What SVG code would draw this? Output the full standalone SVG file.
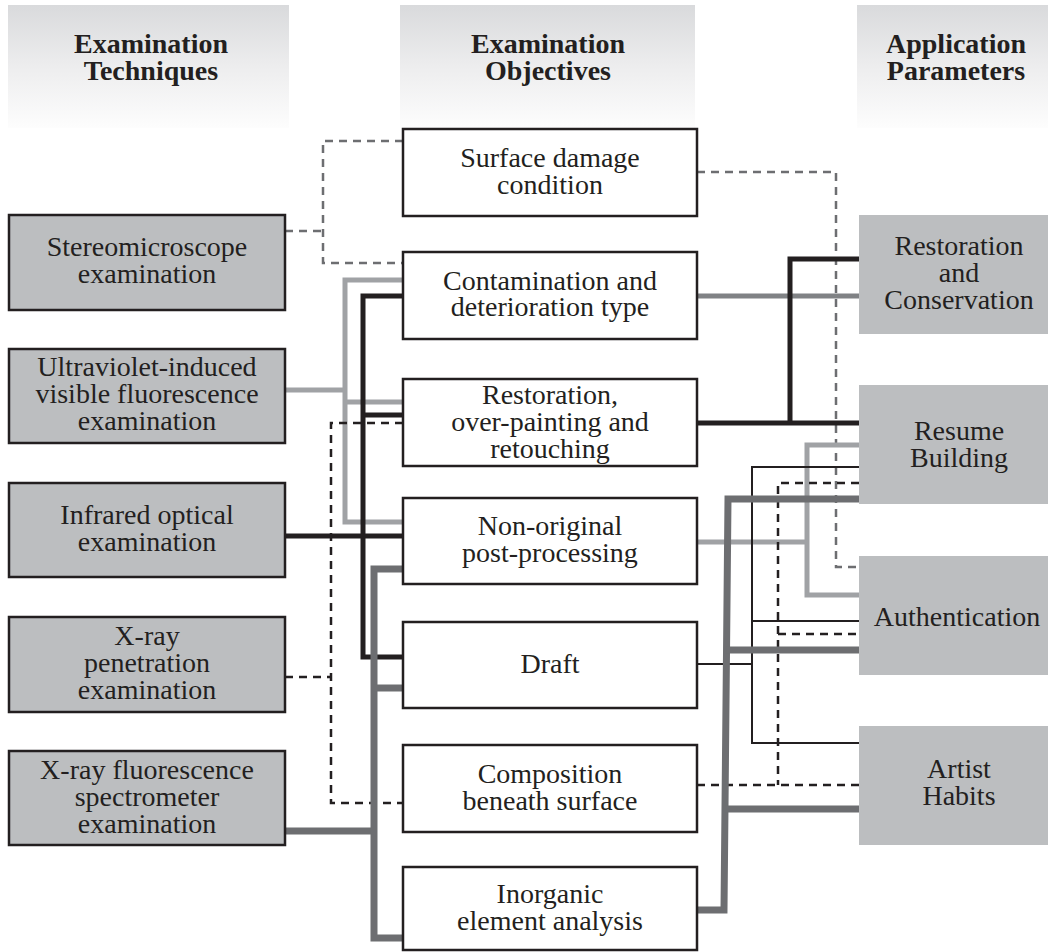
<svg xmlns="http://www.w3.org/2000/svg" width="1048" height="952" viewBox="0 0 1048 952" font-family="Liberation Serif, Times New Roman, Tinos, serif">
<defs>
<linearGradient id="hdr" x1="0" y1="0" x2="0" y2="1">
<stop offset="0" stop-color="#d9dadc"/>
<stop offset="0.5" stop-color="#ededee"/>
<stop offset="1" stop-color="#fdfdfd"/>
</linearGradient>
<style>
text{fill:#231f20;text-anchor:middle;font-size:28px}
.h{font-weight:bold}
.hb{fill:url(#hdr)}
.lb{fill:#bcbec0;stroke:#231f20;stroke-width:2.5}
.mb{fill:#ffffff;stroke:#231f20;stroke-width:2.5}
.rb{fill:#bcbec0}
.c{fill:none;stroke-linejoin:miter;stroke-linecap:butt}
.lg{stroke:#a0a2a5;stroke-width:5}
.bk{stroke:#231f20;stroke-width:5}
.dg{stroke:#6d6e71;stroke-width:7}
.mg{stroke:#808285;stroke-width:5}
.tb{stroke:#231f20;stroke-width:2}
.gd{stroke:#6d6e71;stroke-width:2.5;stroke-dasharray:8 6}
.bd{stroke:#231f20;stroke-width:2.5;stroke-dasharray:8 6}
</style>
</defs>
<rect width="1048" height="952" fill="#ffffff"/>

<g id="headers">
<rect class="hb" x="8" y="5" width="281" height="123"/>
<text class="h" x="151" y="53">Examination<tspan x="151" dy="27">Techniques</tspan></text>
<rect class="hb" x="400" y="5" width="295" height="123"/>
<text class="h" x="548" y="53">Examination<tspan x="548" dy="27">Objectives</tspan></text>
<rect class="hb" x="857" y="5" width="191" height="123"/>
<text class="h" x="956" y="53">Application<tspan x="956" dy="27">Parameters</tspan></text>
</g>

<g id="connectors">
<polyline class="c gd" points="285,231 323,231"/>
<polyline class="c gd" points="403,141 323,141 323,263 403,263"/>
<polyline class="c lg" points="285,390 345,390"/>
<polyline class="c lg" points="403,280 345,280 345,522 403,522"/>
<polyline class="c lg" points="345,402 403,402"/>
<polyline class="c bk" points="403,296 363,296 363,657 403,657"/>
<polyline class="c bk" points="363,415 403,415"/>
<polyline class="c bk" points="285,536 403,536"/>
<polyline class="c bd" points="285,677 331,677"/>
<polyline class="c bd" points="403,423 331,423 331,803 403,803"/>
<polyline class="c dg" points="285,831 374,831"/>
<polyline class="c dg" points="403,569 374,569 374,938 403,938"/>
<polyline class="c dg" points="374,688 403,688"/>
<polyline class="c gd" points="697,172 836,172 836,567 859,567"/>
<polyline class="c mg" points="697,296 859,296"/>
<polyline class="c bk" points="697,423 859,423"/>
<polyline class="c bk" points="859,259 790,259 790,423"/>
<polyline class="c lg" points="697,542 807,542"/>
<polyline class="c lg" points="859,445 807,445 807,595 859,595"/>
<polyline class="c tb" points="697,664 752,664"/>
<polyline class="c tb" points="859,467 752,467 752,743 859,743"/>
<polyline class="c tb" points="752,621 859,621"/>
<polyline class="c bd" points="697,785 859,785"/>
<polyline class="c bd" points="859,483 778,483 778,785"/>
<polyline class="c bd" points="778,634 859,634"/>
<polyline class="c dg" points="697,910 724,910 728,499 859,499"/>
<polyline class="c dg" points="726.5,650 859,650"/>
<polyline class="c dg" points="725,809 859,809"/>
</g>

<g id="tech-stereo">
<rect class="lb" x="9" y="215" width="276" height="95"/>
<text x="147" y="256">Stereomicroscope<tspan x="147" dy="27">examination</tspan></text>
</g>
<g id="tech-uv">
<rect class="lb" x="9" y="349" width="276" height="94"/>
<text x="147" y="376">Ultraviolet-induced<tspan x="147" dy="27">visible fluorescence</tspan><tspan x="147" dy="27">examination</tspan></text>
</g>
<g id="tech-ir">
<rect class="lb" x="9" y="483" width="276" height="94"/>
<text x="147" y="524">Infrared optical<tspan x="147" dy="27">examination</tspan></text>
</g>
<g id="tech-xray">
<rect class="lb" x="9" y="617" width="276" height="95"/>
<text x="147" y="645">X-ray<tspan x="147" dy="27">penetration</tspan><tspan x="147" dy="27">examination</tspan></text>
</g>
<g id="tech-xrf">
<rect class="lb" x="9" y="751" width="276" height="94"/>
<text x="147" y="779">X-ray fluorescence<tspan x="147" dy="27">spectrometer</tspan><tspan x="147" dy="27">examination</tspan></text>
</g>

<g id="obj-surface">
<rect class="mb" x="403" y="129" width="294" height="87"/>
<text x="550" y="167">Surface damage<tspan x="550" dy="27">condition</tspan></text>
</g>
<g id="obj-contamination">
<rect class="mb" x="403" y="252" width="294" height="87"/>
<text x="550" y="290">Contamination and<tspan x="550" dy="26">deterioration type</tspan></text>
</g>
<g id="obj-restoration">
<rect class="mb" x="403" y="379" width="294" height="87"/>
<text x="550" y="404">Restoration,<tspan x="550" dy="27">over-painting and</tspan><tspan x="550" dy="27">retouching</tspan></text>
</g>
<g id="obj-nonoriginal">
<rect class="mb" x="403" y="498" width="294" height="86"/>
<text x="550" y="535">Non-original<tspan x="550" dy="27">post-processing</tspan></text>
</g>
<g id="obj-draft">
<rect class="mb" x="403" y="622" width="294" height="86"/>
<text x="550" y="673">Draft</text>
</g>
<g id="obj-composition">
<rect class="mb" x="403" y="745" width="294" height="87"/>
<text x="550" y="783">Composition<tspan x="550" dy="27">beneath surface</tspan></text>
</g>
<g id="obj-inorganic">
<rect class="mb" x="403" y="867" width="294" height="83"/>
<text x="550" y="903">Inorganic<tspan x="550" dy="27">element analysis</tspan></text>
</g>

<g id="app-restoration">
<rect class="rb" x="859" y="215" width="189" height="119"/>
<text x="959" y="255">Restoration<tspan x="959" dy="27">and</tspan><tspan x="959" dy="27">Conservation</tspan></text>
</g>
<g id="app-resume">
<rect class="rb" x="859" y="385" width="189" height="119"/>
<text x="959" y="440">Resume<tspan x="959" dy="27">Building</tspan></text>
</g>
<g id="app-authentication">
<rect class="rb" x="859" y="556" width="189" height="119"/>
<text x="957" y="626">Authentication</text>
</g>
<g id="app-artist">
<rect class="rb" x="859" y="726" width="189" height="119"/>
<text x="959" y="778">Artist<tspan x="959" dy="27">Habits</tspan></text>
</g>
</svg>
